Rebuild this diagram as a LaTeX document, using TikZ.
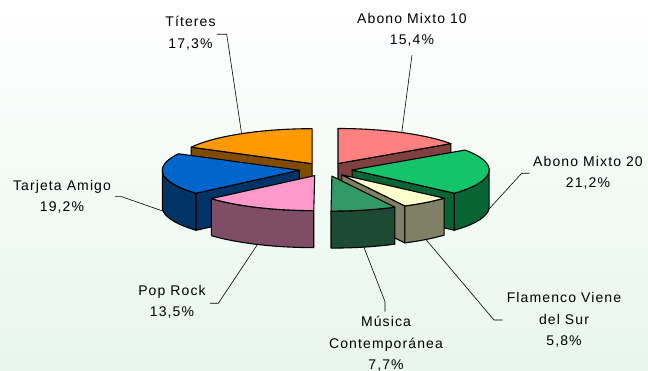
\documentclass[tikz,border=0pt]{standalone}
\usepackage{fontspec}
\setmainfont{Liberation Sans}[LetterSpace=8.0]
\definecolor{amtop}{HTML}{FF8080}\definecolor{amside}{HTML}{804040}
\definecolor{bmtop}{HTML}{14C46A}\definecolor{bmside}{HTML}{086432}
\definecolor{flatop}{HTML}{FFFFCC}\definecolor{flaside}{HTML}{808066}
\definecolor{mustop}{HTML}{339966}\definecolor{musside}{HTML}{1C4A33}
\definecolor{poptop}{HTML}{FF99CC}\definecolor{popside}{HTML}{804D66}
\definecolor{tartop}{HTML}{0066CC}\definecolor{tarside}{HTML}{003366}
\definecolor{tittop}{HTML}{FF9900}\definecolor{titside}{HTML}{804C00}
\definecolor{bgbot}{RGB}{232,246,237}
\newcommand{\slicesetup}[2]{%
  \pgfmathsetmacro{\sa}{#1}\pgfmathsetmacro{\sb}{#2}%
  \pgfmathsetmacro{\sm}{(#1+#2)/2}%
  \pgfmathsetmacro{\vx}{325.7+26.5*sin(\sm)}%
  \pgfmathsetmacro{\vy}{169.5-26.5*0.2555*cos(\sm)}}
\newcommand{\topface}[1]{%
  \filldraw[piece,fill=#1] (\vx,\vy) -- plot[domain=\sa:\sb,samples=60] ({\vx+137*sin(\x)},{\vy-35*cos(\x)}) -- cycle;}
\newcommand{\wallface}[3]{%
  \filldraw[piece,fill=#3] plot[domain=#1:#2,samples=50] ({\vx+137*sin(\x)},{\vy-35*cos(\x)}) -- plot[domain=#2:#1,samples=50] ({\vx+137*sin(\x)},{\vy+37-35*cos(\x)}) -- cycle;}
\newcommand{\radface}[2]{%
  \filldraw[piece,fill=#2] (\vx,\vy) -- ({\vx+137*sin(#1)},{\vy-35*cos(#1)}) -- ({\vx+137*sin(#1)},{\vy+37-35*cos(#1)}) -- (\vx,\vy+37) -- cycle;}
\begin{document}
\begin{tikzpicture}[x=1pt,y=-1pt,
  piece/.style={draw=black,line width=1.1pt,line join=round},
  leader/.style={draw=black,line width=0.6pt},
  lab/.style={align=center,inner sep=0pt,font=\fontsize{14}{21.5}\selectfont}]
\useasboundingbox (0,0) rectangle (648,371);
\fill[top color=white,bottom color=bgbot] (0,0) rectangle (648,371);
% left half
\slicesetup{298.08}{360}
\radface{\sa}{titside}
\topface{tittop}
\coordinate (titA) at ({\vx+137*sin(\sm)},{\vy-35*cos(\sm)});
\slicesetup{228.96}{298.08}
\radface{\sa}{tarside}
\wallface{\sa}{270}{tarside}
\topface{tartop}
\coordinate (tarA) at ({\vx+137*sin(\sm)},{\vy+37-35*cos(\sm)});
\slicesetup{180.36}{228.96}
\wallface{\sa}{\sb}{popside}
\topface{poptop}
\coordinate (popA) at ({\vx+137*sin(\sm)},{\vy+37-35*cos(\sm)});
% right half
\slicesetup{0}{55.44}
\radface{\sb}{amside}
\topface{amtop}
\coordinate (amA) at ({\vx+137*sin(\sm)},{\vy-35*cos(\sm)});
\slicesetup{55.44}{131.76}
\radface{\sb}{bmside}
\wallface{90}{\sb}{bmside}
\topface{bmtop}
\coordinate (bmA) at ({\vx+137*sin(\sm)},{\vy+37-35*cos(\sm)});
\slicesetup{131.76}{152.64}
\radface{\sb}{flaside}
\wallface{\sa}{\sb}{flaside}
\topface{flatop}
\coordinate (flaA) at ({\vx+137*sin(\sm)},{\vy+37-35*cos(\sm)});
\slicesetup{152.64}{180.36}
\wallface{\sa}{\sb}{musside}
\topface{mustop}
\coordinate (musA) at ({\vx+137*sin(\sm)},{\vy+37-35*cos(\sm)});
% labels
\node[lab] (titL) at (190.5,33) {Títeres\\17,3\%};
\node[lab] (amL) at (412,30) {Abono Mixto 10\\15,4\%};
\node[lab] (bmL) at (588,173) {Abono Mixto 20\\21,2\%};
\node[lab] (tarL) at (62,197) {Tarjeta Amigo\\19,2\%};
\node[lab] (popL) at (172,302) {Pop Rock\\13,5\%};
\node[lab] (musL) at (386,344) {Música\\Contemporánea\\7,7\%};
\node[lab] (flaL) at (564,320) {Flamenco Viene\\del Sur\\5,8\%};
% leaders
\coordinate (titT1) at (217,34.3); \coordinate (titT2) at (226.7,34.3);
\draw[leader] (titT1) -- (titT2) -- (titA);
\coordinate (amT) at (412,55);
\draw[leader] (amT) -- (amA);
\coordinate (bmT1) at (529.3,173.3); \coordinate (bmT2) at (521.7,173.3);
\draw[leader] (bmT1) -- (bmT2) -- (bmA);
\coordinate (tarT1) at (115,196.7); \coordinate (tarT2) at (121.7,196.7);
\draw[leader] (tarT1) -- (tarT2) -- (tarA);
\coordinate (popT1) at (210,303.3); \coordinate (popT2) at (218.3,303.3);
\draw[leader] (popT1) -- (popT2) -- (popA);
\coordinate (musT1) at (385,301.7); \coordinate (musT2) at (385,311.7);
\draw[leader] (musA) -- (musT1) -- (musT2);
\coordinate (flaT1) at (494,320); \coordinate (flaT2) at (502.7,320);
\draw[leader] (flaA) -- (flaT1) -- (flaT2);
\end{tikzpicture}
\end{document}
